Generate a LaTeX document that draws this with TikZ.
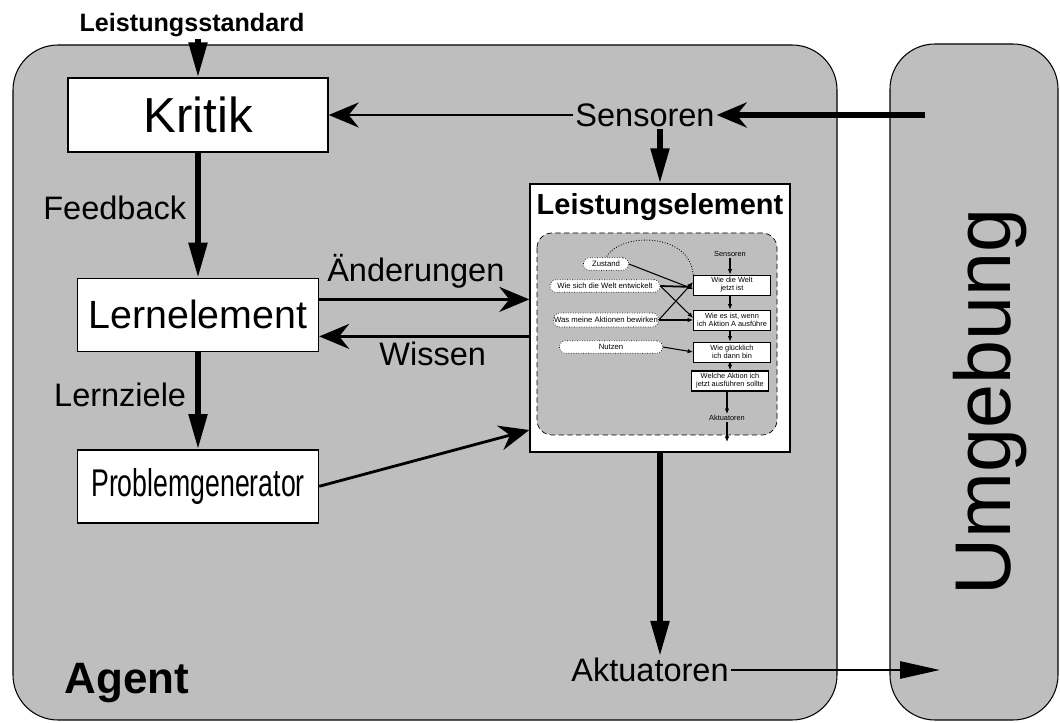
\documentclass[tikz,border=0pt]{standalone}
\usepackage{fontspec}
\setmainfont{Liberation Sans}
\usepackage{graphicx}
\usepackage{tikz}
\usetikzlibrary{arrows.meta,positioning,calc}
\usepackage{xcolor}
\definecolor{agentgray}{RGB}{190,190,190}
\tikzset{
  block/.style={draw, rectangle, fill=white, line width=0.8pt, minimum width=48.2mm, minimum height=14.6mm, inner sep=1pt},
  lbl/.style={font=\fontsize{18.5}{20}\selectfont, inner sep=1pt},
  fat/.style={line width=3pt, -{Triangle[length=7mm, width=3.6mm]}},
  arr/.style={line width=1.6pt, -{Stealth[length=6mm, width=5mm, inset=2mm]}},
  mbox/.style={draw, rectangle, fill=white, line width=0.4pt, minimum width=15.4mm, minimum height=4mm, inner sep=0pt, align=center, font=\fontsize{4.2}{4.6}\selectfont},
  oval/.style={draw, densely dotted, fill=white, rounded corners=1.2mm, minimum height=2.5mm, inner sep=0.3pt, font=\fontsize{4.4}{4.8}\selectfont},
  marr/.style={line width=0.6pt, -{Latex[length=1.1mm, width=0.9mm]}},
}

\begin{document}
\begin{tikzpicture}[x=0.2mm, y=-0.2mm]
\useasboundingbox (0,0) rectangle (1060,723);
% Agent und Umgebung
\draw[fill=agentgray, line width=0.6pt, rounded corners=9mm] (13,45) rectangle (837,720);
\draw[fill=agentgray, line width=0.6pt, rounded corners=9mm] (890,44) rectangle (1058,720);
\node[rotate=90, font=\fontsize{45}{48}\selectfont] (env) at (990,402) {Umgebung};
\node[font=\bfseries\fontsize{25}{28}\selectfont] (agent) at (127,683) {Agent};

\node[block, minimum width=52mm, minimum height=14.8mm, font=\fontsize{28}{30}\selectfont] (kritik) at (198,115) {Kritik};
\node[font=\bfseries\fontsize{14.3}{16}\selectfont, inner sep=1pt] (ls) at (192,25) {Leistungsstandard};
\node[block, below=25mm of kritik, font=\fontsize{22.4}{24}\selectfont] (lern) {Lernelement};
\node[block, below=19.4mm of lern, font=\fontsize{22}{24}\selectfont] (prob) {\scalebox{0.69}[1]{Problemgenerator}};
\node[lbl] (sens) at (645,115) {Sensoren};
\node[lbl] (akt) at (650,670) {Aktuatoren};
\coordinate (envin) at (925,115);
\coordinate (envout) at (940,670);

% Leistungselement mit kleinem Agenten
\node[draw, fill=white, line width=0.8pt, minimum width=52mm, minimum height=53.6mm] (le) at (660,318) {};
\node[below=1.6mm of le.north, font=\bfseries\fontsize{16.5}{18}\selectfont, inner sep=1pt] (letitle) {Leistungselement};
\draw[densely dashed, fill=agentgray, rounded corners=3mm, line width=0.4pt] (537,233) rectangle (777,435);
\node[font=\fontsize{4.2}{4.6}\selectfont, inner sep=0.5pt] (msens) at (730,254) {Sensoren};
\node[mbox] (m1) at (732,285) {Wie die Welt\\jetzt ist};
\node[mbox] (m2) at (732,320) {Wie es ist, wenn\\ich Aktion A ausführe};
\node[mbox] (m3) at (732,352) {Wie glücklich\\ich dann bin};
\node[mbox, line width=0.9pt] (m4) at (730,381) {Welche Aktion ich\\jetzt ausführen sollte};
\node[font=\fontsize{4.2}{4.6}\selectfont, inner sep=0.5pt] (makt) at (727,418) {Aktuatoren};
\coordinate (mout) at (727,442);
\node[oval, minimum width=9mm] (o1) at (606,264) {Zustand};
\node[oval, minimum width=22mm] (o2) at (605,286) {Wie sich die Welt entwickelt};
\node[oval, minimum width=20.4mm, minimum height=2.8mm] (o3) at (606,320) {Was meine Aktionen bewirken};
\node[oval, minimum width=20.6mm] (o4) at (611,347) {Nutzen};
\draw[marr] (msens) -- (msens |- m1.north);
\draw[marr] (m1.south -| msens) -- (m2.north -| msens);
\draw[marr] (m2.south -| msens) -- (m3.north -| msens);
\draw[marr] (m3.south -| msens) -- (m4.north -| msens);
\draw[marr] (m4.south -| makt) -- (makt);
\draw[marr] (makt) -- (mout);
\draw[marr] (o1.east) -- ([yshift=-0.8mm]m1.west);
\draw[marr, line width=1pt] (o2.east) -- ([yshift=-0.4mm]m1.west);
\draw[marr] (o2.east) -- ([yshift=0.4mm]m2.west);
\draw[marr] (o3.east) -- ([yshift=0.6mm]m1.west);
\draw[marr] (o3.east) -- (m2.west);
\draw[marr] (o4.east) -- (m3.west);
\draw[densely dotted, line width=0.5pt] (m1.north west) .. controls (690,232) and (620,232) .. (o1.north);

% Pfeile
\draw[fat] (kritik.north |- ls.south) -- (kritik.north);
\draw[fat] (kritik) -- node[lbl, left=1.5mm, pos=.44]{Feedback} (lern);
\draw[fat] (lern) -- node[lbl, left=1.5mm, pos=.44]{Lernziele} (prob);
\draw[arr] (sens) -- (sens -| kritik.east);
\draw[arr, line width=3.4pt] (envin) -- (sens);
\draw[fat] (sens.south -| le.north) -- (le.north);
\draw[fat] (le.south) -- (le.south |- akt.north);
\draw[line width=1.6pt, -{Triangle[length=8mm, width=3.4mm]}] (akt) -- (envout);
\coordinate (chg) at ([yshift=3.1mm]lern.east);
\coordinate (kn) at ([yshift=-4.3mm]lern.east);
\draw[arr] (chg) -- node[lbl, above=1.5mm, pos=.46]{Änderungen} (chg -| le.west);
\draw[arr] (kn -| le.west) -- node[lbl, below=0.5mm, pos=.46]{Wissen} (kn);
\draw[arr] (prob.east) -- ([yshift=-22.4mm]le.west);
\end{tikzpicture}
\end{document}
